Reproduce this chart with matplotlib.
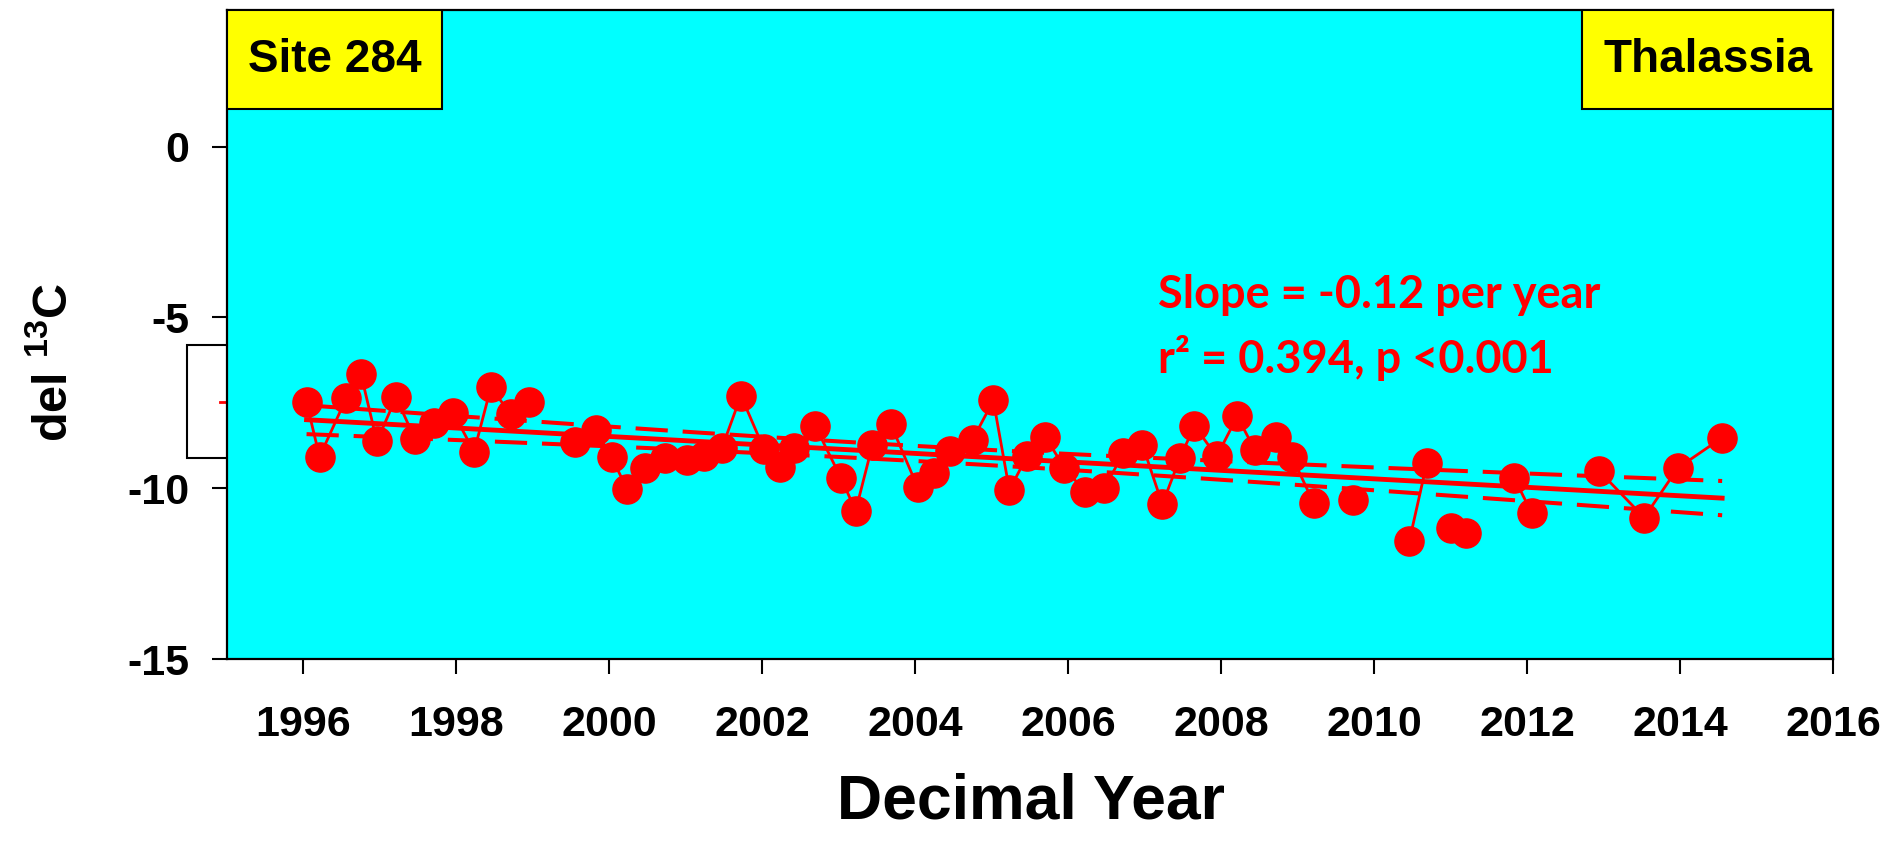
import matplotlib.pyplot as plt
import numpy as np
from matplotlib.patches import Rectangle
from matplotlib.lines import Line2D

plt.rcParams['font.family'] = ['Liberation Sans', 'DejaVu Sans']
plt.rcParams['font.weight'] = 'bold'
plt.rcParams['axes.unicode_minus'] = False
plt.rcParams['mathtext.fontset'] = 'custom'
plt.rcParams['mathtext.rm'] = 'Liberation Sans:bold'
plt.rcParams['mathtext.bf'] = 'Liberation Sans:bold'
plt.rcParams['mathtext.default'] = 'bf'

# quarterly del 13C samples, Thalassia at site 284
year = [1996.04, 1996.21, 1996.56, 1996.75, 1996.96, 1997.21, 1997.46, 1997.71,
        1997.96, 1998.23, 1998.45, 1998.71, 1998.95, 1999.55, 1999.82, 2000.03,
        2000.23, 2000.46, 2000.73, 2001.01, 2001.24, 2001.47, 2001.72, 2002.02,
        2002.23, 2002.42, 2002.69, 2003.03, 2003.22, 2003.44, 2003.68, 2004.03,
        2004.24, 2004.46, 2004.75, 2005.02, 2005.23, 2005.46, 2005.70, 2005.95,
        2006.22, 2006.47, 2006.72, 2006.97, 2007.23, 2007.46, 2007.65, 2007.94,
        2008.21, 2008.44, 2008.71, 2008.93, 2009.21, 2009.72, 2010.46, 2010.69,
        2011.01, 2011.20, 2011.83, 2012.06, 2012.94, 2013.53, 2013.97, 2014.55]
d13c = [-7.49, -9.08, -7.36, -6.65, -8.63, -7.34, -8.57, -8.08,
        -7.80, -8.93, -7.05, -7.83, -7.48, -8.66, -8.29, -9.10,
        -10.02, -9.41, -9.12, -9.17, -9.07, -8.83, -7.29, -8.85,
        -9.39, -8.83, -8.17, -9.71, -10.66, -8.73, -8.13, -9.97,
        -9.56, -8.91, -8.58, -7.43, -10.05, -9.07, -8.49, -9.41,
        -10.10, -10.00, -8.98, -8.73, -10.47, -9.12, -8.17, -9.07,
        -7.90, -8.88, -8.49, -9.10, -10.44, -10.34, -11.54, -9.25,
        -11.15, -11.32, -9.69, -10.73, -9.49, -10.86, -9.41, -8.52]
# missing quarters: the connecting line breaks after these samples
gap_after = [12, 52, 53, 55, 57, 59]

xticks = list(range(1996, 2017, 2))
yticks = [-15, -10, -5, 0]
site_label = 'Site 284'
species_label = 'Thalassia'
slope_text = 'Slope = -0.12 per year'
stats_text = 'r² = 0.394, p <0.001'

fig = plt.figure(figsize=(18.95, 8.5), dpi=100, facecolor='w')
ax = fig.add_axes([0.1198, 0.2247, 0.8475, 0.7635])
ax.set_facecolor('#00FFFF')

# legend box left over behind the axes
fig.add_artist(Rectangle((187/1895, 0.4612), 0.05, 0.1329, transform=fig.transFigure,
                         fc='white', ec='black', lw=1.5, zorder=-1))
fig.add_artist(Line2D([220/1895, 240/1895], [0.527, 0.527], transform=fig.transFigure,
                      color='red', lw=2, zorder=-1))

x = np.array(year)
y = np.array(d13c)

starts = [0] + [g + 1 for g in gap_after]
ends = gap_after + [len(year) - 1]
for s, e in zip(starts, ends):
    ax.plot(x[s:e+1], y[s:e+1], color='red', lw=2.0, zorder=2)

# linear regression with 95% confidence band
b, a = np.polyfit(x, y, 1)
n = len(x)
resid = y - (a + b*x)
sres = np.sqrt(np.sum(resid**2)/(n - 2))
sxx = np.sum((x - x.mean())**2)
xf = np.linspace(x.min(), x.max(), 200)
yf = a + b*xf
se = sres*np.sqrt(1.0/n + (xf - x.mean())**2/sxx)
tval = 1.999
ax.plot(xf, yf, color='red', lw=3.5, zorder=3)
ax.plot(xf, yf + tval*se, color='red', lw=2.9, dashes=(8, 3.7), zorder=3)
ax.plot(xf, yf - tval*se, color='red', lw=2.9, dashes=(8, 3.7), zorder=3)

ax.plot(x, y, 'o', ms=21, color='red', mec='red', zorder=4)

ax.set_xlim(1995, 2016)
ax.set_ylim(-15, 4)
ax.set_xticks(xticks)
ax.set_yticks(yticks)
ax.tick_params(direction='out', length=11, width=1.5, labelsize=31)
ax.tick_params(axis='x', pad=22)
ax.tick_params(axis='y', pad=16)
for sp in ax.spines.values():
    sp.set_linewidth(1.6)

ax.add_patch(Rectangle((0, 0.8475), 0.1339, 0.1525, transform=ax.transAxes,
                       fc='yellow', ec='black', lw=1.5, zorder=5))
ax.text(0.067, 0.923, site_label, transform=ax.transAxes, ha='center', va='center',
        fontsize=33, fontweight='bold', zorder=6)
ax.add_patch(Rectangle((0.8437, 0.8475), 0.1563, 0.1525, transform=ax.transAxes,
                       fc='yellow', ec='black', lw=1.5, zorder=5))
ax.text(0.9219, 0.923, species_label, transform=ax.transAxes, ha='center', va='center',
        fontsize=33, fontweight='bold', zorder=6)

ax.text(2007.17, -4.72, slope_text, color='red', fontsize=32.5,
        family=['Lato', 'DejaVu Sans'], fontweight='bold', zorder=6)
ax.text(2007.17, -6.62, stats_text, color='red', fontsize=32.5,
        family=['Lato', 'DejaVu Sans'], fontweight='bold', zorder=6)

fig.text(1031/1895, 0.0376, 'Decimal Year', ha='center', va='baseline',
         fontsize=45, fontweight='bold')
fig.text(0.0285, 0.574, 'del $^{13}$C', ha='center', va='center', rotation=90,
         fontsize=35, fontweight='bold')

plt.savefig('out.png', dpi=100)
